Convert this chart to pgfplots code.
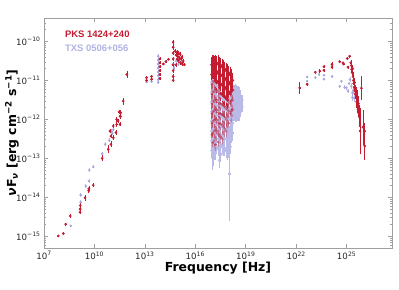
\documentclass[border=0pt]{standalone}
\usepackage{pgfplots}
\usepackage{pgfplotstable}
\pgfplotsset{compat=1.18}
\usepackage{fontspec}
\setmainfont{DejaVu Sans}
\newfontfamily\lsans{Liberation Sans}
\definecolor{pksred}{RGB}{196,28,48}
\definecolor{txsblue}{RGB}{165,165,222}
\definecolor{txsxblue}{RGB}{186,186,230}
\definecolor{txslabel}{RGB}{178,178,228}

\pgfplotstableread{
lx ly e
7.85 -14.99 0.03
8.15 -14.93 0.03
8.29 -14.69 0.04
8.56 -14.48 0.05
9.14 -14.38 0.05
9.15 -14.30 0.05
9.16 -14.21 0.06
9.44 -14.01 0.08
9.66 -13.83 0.06
9.67 -13.78 0.07
9.93 -13.69 0.05
10.46 -13.00 0.08
10.82 -12.77 0.10
10.92 -12.30 0.06
10.98 -12.43 0.06
10.98 -12.64 0.08
11.12 -12.17 0.05
11.12 -12.47 0.07
11.28 -12.34 0.06
11.32 -12.00 0.06
11.32 -12.13 0.06
11.41 -12.04 0.05
11.47 -11.81 0.06
11.52 -12.13 0.05
11.52 -11.92 0.06
11.55 -11.92 0.05
11.56 -11.83 0.06
11.71 -11.53 0.09
11.93 -10.85 0.10
}\pksradio

\pgfplotstableread{
lx ly e
13.10 -10.93 0.04
13.10 -11.00 0.04
13.40 -10.90 0.04
13.40 -10.97 0.04
13.89 -10.45 0.04
13.89 -10.55 0.04
13.89 -10.65 0.04
13.89 -10.75 0.04
13.89 -10.85 0.04
13.89 -10.95 0.04
14.10 -10.58 0.03
14.25 -10.52 0.03
14.40 -10.46 0.03
14.68 -10.02 0.06
14.68 -10.15 0.06
14.68 -10.30 0.06
14.68 -10.45 0.06
14.68 -10.60 0.06
14.68 -10.75 0.06
14.68 -10.90 0.06
14.68 -11.00 0.05
14.80 -10.25 0.05
14.85 -10.35 0.05
14.85 -10.60 0.05
14.90 -10.28 0.05
14.92 -10.45 0.05
14.95 -10.38 0.05
15.00 -10.30 0.05
15.00 -10.50 0.05
15.05 -10.42 0.05
15.10 -10.33 0.05
15.12 -10.55 0.05
15.15 -10.45 0.05
15.20 -10.40 0.05
15.22 -10.58 0.05
15.28 -10.50 0.05
15.35 -10.60 0.04
}\pksopt

\pgfplotstableread{
lx ly e
16.98 -10.60 0.2
16.98 -10.85 0.2
17.05 -10.55 0.2
17.05 -10.78 0.2
17.12 -10.57 0.2
17.12 -10.80 0.2
17.20 -10.54 0.2
17.20 -10.76 0.2
17.20 -11.00 0.2
17.28 -10.58 0.2
17.28 -10.82 0.2
17.28 -11.06 0.2
17.36 -10.56 0.2
17.36 -10.78 0.2
17.36 -11.02 0.2
17.44 -10.60 0.2
17.44 -10.84 0.2
17.44 -11.08 0.2
17.52 -10.62 0.2
17.52 -10.86 0.2
17.52 -11.10 0.2
17.52 -11.34 0.2
17.60 -10.65 0.2
17.60 -10.88 0.2
17.60 -11.12 0.2
17.60 -11.36 0.2
17.68 -10.68 0.2
17.68 -10.92 0.2
17.68 -11.15 0.2
17.68 -11.40 0.2
17.76 -10.72 0.2
17.76 -10.95 0.2
17.76 -11.18 0.2
17.76 -11.42 0.2
17.84 -10.75 0.2
17.84 -10.98 0.2
17.84 -11.22 0.2
17.84 -11.46 0.2
17.92 -10.78 0.2
17.92 -11.02 0.2
17.92 -11.25 0.2
17.92 -11.50 0.2
18.00 -10.82 0.2
18.00 -11.05 0.2
18.00 -11.30 0.2
18.08 -10.86 0.2
18.08 -11.10 0.2
18.08 -11.35 0.2
18.16 -10.92 0.2
18.16 -11.15 0.2
18.22 -11.00 0.2
18.22 -11.25 0.2
}\pksxup

\pgfplotstableread{
lx ly e
16.98 -11.10 0.2
16.98 -11.35 0.2
16.98 -11.60 0.2
16.98 -11.85 0.2
16.98 -12.10 0.2
16.98 -12.40 0.2
17.05 -11.02 0.2
17.05 -11.28 0.2
17.05 -11.52 0.2
17.05 -11.80 0.2
17.05 -12.05 0.2
17.05 -12.35 0.2
17.05 -12.60 0.2
17.12 -11.05 0.2
17.12 -11.30 0.2
17.12 -11.55 0.2
17.12 -11.78 0.2
17.12 -12.02 0.2
17.12 -12.30 0.2
17.12 -12.55 0.2
17.20 -11.24 0.2
17.20 -11.50 0.2
17.20 -11.75 0.2
17.20 -12.00 0.2
17.20 -12.28 0.2
17.20 -12.65 0.2
17.28 -11.30 0.2
17.28 -11.56 0.2
17.28 -11.82 0.2
17.28 -12.08 0.2
17.28 -12.35 0.2
17.36 -11.26 0.2
17.36 -11.50 0.2
17.36 -11.76 0.2
17.36 -12.02 0.2
17.36 -12.30 0.2
17.36 -12.58 0.2
17.44 -11.32 0.2
17.44 -11.58 0.2
17.44 -11.84 0.2
17.44 -12.10 0.2
17.44 -12.40 0.2
17.52 -11.60 0.2
17.52 -11.86 0.2
17.52 -12.12 0.2
17.52 -12.45 0.2
17.60 -11.62 0.2
17.60 -11.88 0.2
17.60 -12.15 0.2
17.60 -12.50 0.2
17.68 -11.65 0.2
17.68 -11.90 0.2
17.68 -12.20 0.2
17.76 -11.68 0.2
17.76 -11.94 0.2
17.76 -12.25 0.2
17.84 -11.72 0.2
17.84 -12.00 0.2
17.84 -12.30 0.2
17.92 -11.75 0.2
17.92 -12.05 0.2
18.00 -11.55 0.2
18.00 -11.80 0.2
18.00 -12.10 0.2
18.08 -11.60 0.2
18.08 -11.85 0.2
18.16 -11.40 0.2
18.16 -11.65 0.2
18.16 -11.90 0.2
18.22 -11.50 0.2
18.22 -11.75 0.2
}\pksxlow

\pgfplotstableread{
lx ly e
22.21 -11.19 0.16
22.65 -11.10 0.04
23.14 -10.79 0.04
23.40 -10.76 0.04
23.65 -10.65 0.04
23.65 -10.74 0.04
24.13 -10.59 0.05
24.13 -10.66 0.04
24.59 -10.52 0.03
24.78 -10.55 0.03
24.82 -10.58 0.03
25.04 -10.44 0.04
25.18 -10.38 0.04
25.08 -10.66 0.04
25.25 -10.55 0.08
25.28 -10.62 0.10
25.30 -10.72 0.10
25.33 -10.80 0.10
25.36 -10.70 0.10
25.38 -10.90 0.12
25.40 -11.00 0.12
25.43 -11.08 0.12
25.45 -11.18 0.12
25.47 -11.05 0.12
25.50 -11.25 0.14
25.52 -11.35 0.14
25.55 -11.30 0.14
25.57 -11.45 0.15
25.60 -11.55 0.15
25.62 -11.40 0.15
25.65 -11.65 0.18
25.68 -11.75 0.18
25.70 -11.60 0.20
25.74 -11.85 0.22
25.78 -11.95 0.25
25.80 -12.30 0.60
25.88 -11.20 0.30
25.97 -12.20 0.45
26.07 -12.30 0.20
26.07 -12.68 0.35
}\pksgam

\pgfplotstableread{
lx ly e
8.59 -14.73 0.03
9.18 -13.94 0.04
9.18 -14.12 0.04
9.48 -13.71 0.04
9.67 -13.58 0.04
9.69 -13.30 0.04
9.93 -13.22 0.04
10.46 -12.88 0.05
10.64 -12.64 0.05
10.88 -12.54 0.05
11.02 -12.30 0.05
11.12 -12.26 0.05
11.06 -12.36 0.05
}\txsradio

\pgfplotstableread{
lx ly e
13.10 -11.04 0.04
13.40 -11.03 0.04
13.79 -10.38 0.05
13.79 -10.48 0.05
13.79 -10.58 0.05
13.79 -10.68 0.05
13.79 -10.78 0.05
13.79 -10.88 0.05
13.79 -10.98 0.05
13.79 -11.05 0.05
14.68 -10.45 0.05
14.68 -10.58 0.05
14.72 -10.68 0.05
14.85 -10.50 0.05
15.00 -10.58 0.05
15.15 -10.52 0.05
}\txsopt

\pgfplotstableread{
lx ly e
16.98 -11.05 0.2
16.98 -11.30 0.2
16.98 -11.55 0.2
16.98 -11.80 0.2
16.98 -12.05 0.2
16.98 -12.30 0.2
16.98 -12.55 0.2
16.98 -12.80 0.2
17.05 -11.00 0.2
17.05 -11.25 0.2
17.05 -11.50 0.2
17.05 -11.75 0.2
17.05 -12.00 0.2
17.05 -12.25 0.2
17.05 -12.50 0.2
17.05 -12.75 0.2
17.05 -13.00 0.2
17.12 -11.05 0.2
17.12 -11.30 0.2
17.12 -11.55 0.2
17.12 -11.80 0.2
17.12 -12.05 0.2
17.12 -12.30 0.2
17.12 -12.55 0.2
17.12 -12.85 0.2
17.20 -11.10 0.2
17.20 -11.35 0.2
17.20 -11.60 0.2
17.20 -11.85 0.2
17.20 -12.10 0.2
17.20 -12.35 0.2
17.20 -12.60 0.2
17.20 -12.85 0.2
17.28 -11.15 0.2
17.28 -11.40 0.2
17.28 -11.65 0.2
17.28 -11.90 0.2
17.28 -12.15 0.2
17.28 -12.40 0.2
17.28 -12.70 0.2
17.36 -11.25 0.2
17.36 -11.50 0.2
17.36 -11.75 0.2
17.36 -12.00 0.2
17.36 -12.25 0.2
17.36 -12.50 0.2
17.36 -12.75 0.2
17.44 -11.30 0.2
17.44 -11.55 0.2
17.44 -11.80 0.2
17.44 -12.05 0.2
17.44 -12.30 0.2
17.44 -12.55 0.2
17.44 -12.80 0.2
17.44 -13.05 0.2
17.52 -11.40 0.2
17.52 -11.65 0.2
17.52 -11.90 0.2
17.52 -12.15 0.2
17.52 -12.40 0.2
17.52 -12.65 0.2
17.52 -12.90 0.2
17.60 -11.45 0.2
17.60 -11.70 0.2
17.60 -11.95 0.2
17.60 -12.20 0.2
17.60 -12.45 0.2
17.60 -12.70 0.2
17.68 -11.50 0.2
17.68 -11.75 0.2
17.68 -12.00 0.2
17.68 -12.25 0.2
17.68 -12.50 0.2
17.68 -12.75 0.2
17.76 -11.50 0.2
17.76 -11.75 0.2
17.76 -12.00 0.2
17.76 -12.25 0.2
17.76 -12.50 0.2
17.76 -12.75 0.2
17.84 -11.50 0.2
17.84 -11.75 0.2
17.84 -12.00 0.2
17.84 -12.25 0.2
17.84 -12.50 0.2
17.84 -12.80 0.2
17.92 -11.55 0.2
17.92 -11.80 0.2
17.92 -12.05 0.2
17.92 -12.30 0.2
17.92 -12.55 0.2
17.92 -12.85 0.2
18.00 -11.50 0.2
18.00 -11.75 0.2
18.00 -12.00 0.2
18.00 -12.25 0.2
18.00 -12.50 0.2
18.00 -12.80 0.2
18.08 -11.45 0.2
18.08 -11.70 0.2
18.08 -11.95 0.2
18.08 -12.20 0.2
18.08 -12.45 0.2
18.08 -12.70 0.2
18.16 -11.40 0.2
18.16 -11.65 0.2
18.16 -11.90 0.2
18.16 -12.15 0.2
18.16 -12.40 0.2
18.22 -11.35 0.2
18.22 -11.60 0.2
18.22 -11.85 0.2
18.22 -12.10 0.2
18.22 -12.35 0.2
18.30 -11.28 0.15
18.30 -11.50 0.15
18.30 -11.72 0.15
18.30 -11.90 0.15
18.38 -11.25 0.15
18.38 -11.48 0.15
18.38 -11.70 0.15
18.38 -11.92 0.15
18.46 -11.28 0.15
18.46 -11.50 0.15
18.46 -11.72 0.15
18.46 -11.92 0.15
18.54 -11.30 0.15
18.54 -11.52 0.15
18.54 -11.74 0.15
18.54 -11.90 0.15
18.62 -11.32 0.15
18.62 -11.55 0.15
18.62 -11.76 0.15
18.62 -11.88 0.15
18.70 -11.40 0.15
18.70 -11.60 0.15
18.70 -11.80 0.15
18.78 -11.50 0.12
18.78 -11.68 0.12
17.02 -12.90 0.40
17.44 -12.90 0.30
18.04 -13.40 1.20
}\txsx

\pgfplotstableread{
lx ly e
22.65 -10.91 0.03
22.65 -11.02 0.03
23.14 -10.93 0.03
23.36 -10.85 0.03
23.65 -10.87 0.03
23.65 -10.97 0.03
24.13 -10.90 0.03
24.59 -11.15 0.04
24.69 -11.02 0.04
24.88 -11.18 0.05
24.99 -11.19 0.05
25.08 -11.27 0.05
25.14 -11.08 0.05
25.20 -10.98 0.06
25.28 -11.15 0.08
25.34 -11.32 0.08
25.34 -11.44 0.08
25.40 -11.25 0.10
25.45 -11.45 0.10
}\txsgam

\pgfplotsset{
  sedpts/.style={only marks, mark=*, mark size=1.15pt,
    error bars/y dir=both, error bars/y explicit,
    error bars/x dir=both, error bars/x fixed=0.04,
    error bars/error mark=none,
    error bars/error bar style={line width=0.55pt}},
  xraypts/.style={only marks, mark=*, mark size=1.45pt,
    error bars/y dir=both, error bars/y explicit,
    error bars/x dir=both, error bars/x fixed=0.07,
    error bars/error mark=none},
}

\begin{document}
\begin{tikzpicture}
\begin{axis}[
  scale only axis, width=348bp, height=230bp,
  xmin=7, xmax=27.7, ymin=-15.3, ymax=-9.4,
  xtick={7,10,13,16,19,22,25},
  xticklabels={10\textsuperscript{7},10\textsuperscript{10},10\textsuperscript{13},10\textsuperscript{16},10\textsuperscript{19},10\textsuperscript{22},10\textsuperscript{25}},
  ytick={-15,-14,-13,-12,-11,-10},
  yticklabels={10\textsuperscript{−15},10\textsuperscript{−14},10\textsuperscript{−13},10\textsuperscript{−12},10\textsuperscript{−11},10\textsuperscript{−10}},
  minor ytick={-15.222,-15.155,-15.097,-15.046,
    -14.699,-14.523,-14.398,-14.301,-14.222,-14.155,-14.097,-14.046,
    -13.699,-13.523,-13.398,-13.301,-13.222,-13.155,-13.097,-13.046,
    -12.699,-12.523,-12.398,-12.301,-12.222,-12.155,-12.097,-12.046,
    -11.699,-11.523,-11.398,-11.301,-11.222,-11.155,-11.097,-11.046,
    -10.699,-10.523,-10.398,-10.301,-10.222,-10.155,-10.097,-10.046,
    -9.699,-9.523},
  tick align=inside,
  major tick length=4bp, minor tick length=2bp,
  axis line style={gray!75},
  every tick/.style={gray!75, line width=0.5pt},
  tick label style={font=\fontsize{8.7}{10}\selectfont, text=black!85},
  xlabel={\bfseries Frequency [Hz]},
  ylabel={\bfseries\textit{ν}F\textsubscript{\textit{ν}} [erg cm\textsuperscript{−2} s\textsuperscript{−1}]},
  label style={font=\fontsize{12.5}{14}\selectfont},
  x label style={at={(axis description cs:0.5,-0.088)}, anchor=center},
  y label style={at={(axis description cs:-0.092,0.5)}, anchor=center},
]
\coordinate (sw) at (rel axis cs:0,0);
\addplot[color=txsxblue, xraypts, error bars/error bar style={line width=1.1pt}] table[x=lx, y=ly, y error=e] {\txsx};
\addplot[color=pksred, xraypts, error bars/error bar style={line width=1.1pt}] table[x=lx, y=ly, y error=e] {\pksxup};
\addplot[color=pksred, xraypts, mark size=1.25pt, opacity=0.38, error bars/error bar style={opacity=0.38, line width=1.0pt}] table[x=lx, y=ly, y error=e] {\pksxlow};
\addplot[color=txsblue, sedpts, opacity=0.75, error bars/error bar style={opacity=0.75}] table[x=lx, y=ly, y error=e] {\txsradio};
\addplot[color=txsblue, sedpts, opacity=0.75, error bars/error bar style={opacity=0.75}] table[x=lx, y=ly, y error=e] {\txsopt};
\addplot[color=txsblue, sedpts, opacity=0.75, error bars/error bar style={opacity=0.75}] table[x=lx, y=ly, y error=e] {\txsgam};
\addplot[color=pksred, sedpts] table[x=lx, y=ly, y error=e] {\pksradio};
\addplot[color=pksred, sedpts] table[x=lx, y=ly, y error=e] {\pksopt};
\addplot[color=pksred, sedpts] table[x=lx, y=ly, y error=e] {\pksgam};
\node[anchor=west, inner sep=0pt, text=pksred, font=\lsans\bfseries\fontsize{9.5}{11}\selectfont] at (rel axis cs:0.06,0.93) {PKS 1424+240};
\node[anchor=west, inner sep=0pt, text=txslabel, font=\lsans\bfseries\fontsize{9.5}{11}\selectfont] at (rel axis cs:0.06,0.87) {TXS 0506+056};
\end{axis}
\pgfresetboundingbox
\path[use as bounding box] (sw) ++(-44bp,-42bp) rectangle ++(399bp,290bp);
\end{tikzpicture}
\end{document}
